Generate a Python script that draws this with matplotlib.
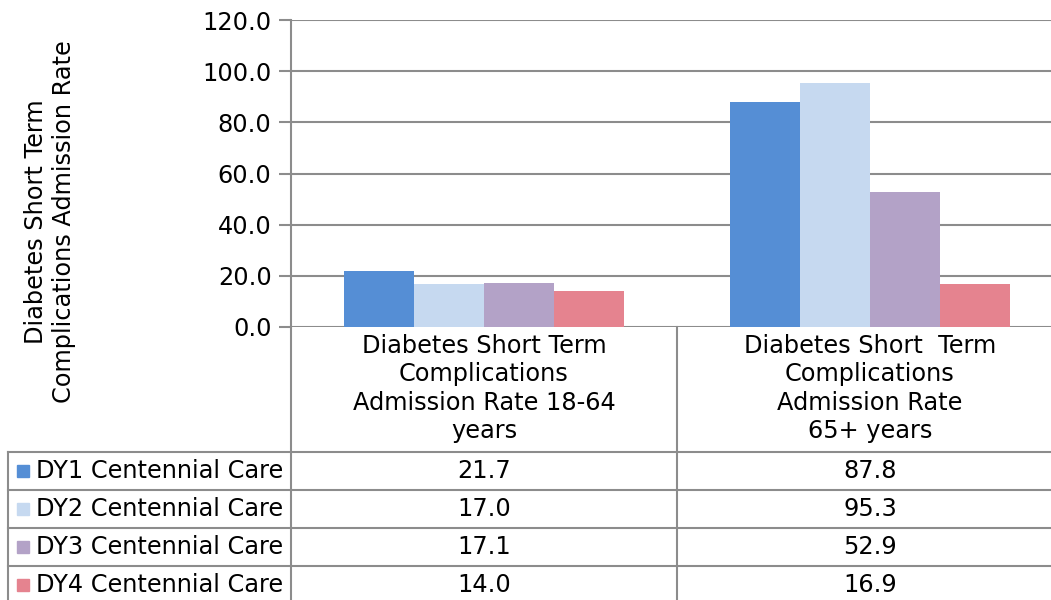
import matplotlib.pyplot as plt
from matplotlib.lines import Line2D
import numpy as np

categories = ["Diabetes Short Term\nComplications\nAdmission Rate 18-64\nyears",
              "Diabetes Short  Term\nComplications\nAdmission Rate\n65+ years"]
series = ["DY1 Centennial Care", "DY2 Centennial Care",
          "DY3 Centennial Care", "DY4 Centennial Care"]
values = [[21.7, 87.8],
          [17.0, 95.3],
          [17.1, 52.9],
          [14.0, 16.9]]
colors = ["#558ED5", "#C6D9F0", "#B3A2C7", "#E5838F"]
ylabel = "Diabetes Short Term\nComplications Admission Rate"

W, H = 1051, 600
grid_c = "#8c8c8c"
fs = 17.3

fig = plt.figure(figsize=(W / 100, H / 100), dpi=100)


def fx(px):
    return px / W


def fy(py):
    return 1 - py / H


# plot area in pixels: x 291..1063, y 20..327
x0, x1, y0, y1 = 291, 1063, 20, 327
ax = fig.add_axes([fx(x0), fy(y1), fx(x1 - x0), (y1 - y0) / H])
ax.set_xlim(0, len(categories))
ax.set_ylim(0, 120)

bw = 0.181
x = np.arange(len(categories)) + 0.5
for i, (name, vals) in enumerate(zip(series, values)):
    ax.bar(x + (i - 1.5) * bw, vals, bw, color=colors[i], zorder=3,
           edgecolor="none", label=name)

ax.set_yticks(np.arange(0, 121, 20))
ax.set_yticklabels([f"{v:.1f}" for v in np.arange(0, 121, 20)], fontsize=fs)
ax.set_xticks([])
ax.grid(axis="y", color=grid_c, lw=1.5, zorder=1)
for s in ["top", "right", "bottom"]:
    ax.spines[s].set_visible(False)
ax.spines["left"].set_color(grid_c)
ax.spines["left"].set_linewidth(1.5)
ax.tick_params(axis="y", length=9, width=1.5, color=grid_c, pad=5)

fig.text(fx(50), fy(222), ylabel, rotation=90, ha="center", va="center",
         fontsize=fs, linespacing=1.2)


def hline(py, xa, xb):
    fig.add_artist(Line2D([fx(xa), fx(xb)], [fy(py), fy(py)], color=grid_c, lw=1.5))


def vline(px, ya, yb):
    fig.add_artist(Line2D([fx(px), fx(px)], [fy(ya), fy(yb)], color=grid_c, lw=1.5))


# data table
col_edges = [291, 677, 1063]
row_tops = [452, 490, 528, 566, 604]
vline(291, 327, 600)
vline(677, 327, 600)
vline(8, 452, 600)
for r in row_tops:
    hline(r, 8, W)

for j, cat in enumerate(categories):
    cx = (col_edges[j] + col_edges[j + 1]) / 2
    fig.text(fx(cx), fy(334), cat, ha="center", va="top", fontsize=fs,
             linespacing=1.23)

for i, name in enumerate(series):
    cy = (row_tops[i] + row_tops[i + 1]) / 2
    fig.add_artist(plt.Rectangle((fx(17), fy(cy + 6)), fx(12), 12 / H,
                                 color=colors[i], transform=fig.transFigure))
    fig.text(fx(36), fy(cy), name, ha="left", va="center", fontsize=fs)
    for j in range(len(categories)):
        cx = (col_edges[j] + col_edges[j + 1]) / 2
        fig.text(fx(cx), fy(cy), f"{values[i][j]:.1f}", ha="center",
                 va="center", fontsize=fs)

fig.savefig("out.png", dpi=100)
